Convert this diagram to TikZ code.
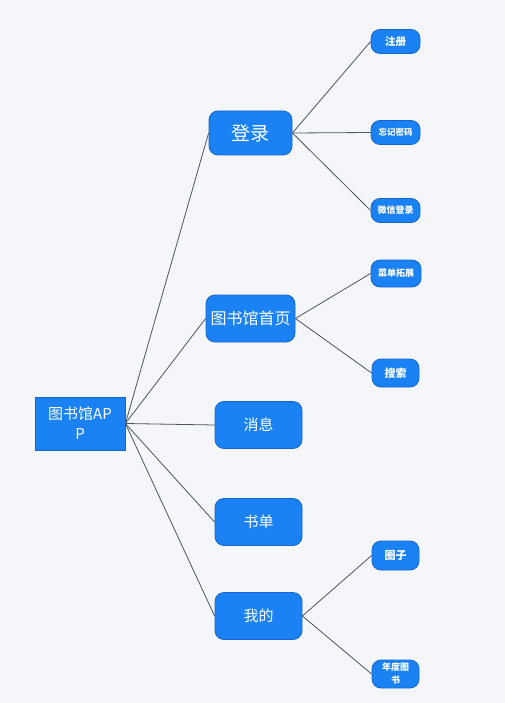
\documentclass[tikz,border=0pt]{standalone}
\usepackage{fontspec}
\newfontfamily\cjk{Noto Sans CJK SC}
\definecolor{bg}{HTML}{F4F6FA}
\definecolor{nodefill}{HTML}{1A82F5}
\definecolor{nodeline}{HTML}{1466CC}
\definecolor{edge}{HTML}{4B5560}
\begin{document}
\begin{tikzpicture}[x=1pt,y=-1pt,
  base/.style={draw=nodeline,fill=nodefill,text=white,line width=0.8pt,inner sep=0pt,align=center,font=\cjk},
  rootbox/.style={base,minimum width=90pt,minimum height=53pt,font=\cjk\fontsize{15}{20}\selectfont},
  lone/.style={base,rounded corners=9pt,minimum width=87pt,minimum height=47pt,font=\cjk\fontsize{15}{18}\selectfont},
  ltwo/.style={base,rounded corners=9pt,minimum width=49pt,minimum height=24pt,font=\cjk\bfseries\fontsize{9}{11}\selectfont},
  conn/.style={draw=edge,line width=0.8pt}]
\fill[bg] (0,0) rectangle (505,703);
\useasboundingbox (0,0) rectangle (505,703);
\node[rootbox] (root) at (80,423.5) {图书馆AP\\P};
\node[lone,minimum width=83pt,minimum height=44pt,font=\cjk\fontsize{19}{22}\selectfont] (login) at (250.5,133) {登录};
\node[lone,minimum width=89pt,font=\cjk\fontsize{16}{18}\selectfont] (home) at (250.5,318.5) {图书馆首页};
\node[lone] (msg) at (258.5,425) {消息};
\node[lone] (list) at (258.5,522) {书单};
\node[lone] (mine) at (258.5,616) {我的};
\node[ltwo,font=\cjk\bfseries\fontsize{10.5}{12}\selectfont] (reg) at (395.5,41.5) {注册};
\node[ltwo,font=\cjk\bfseries\fontsize{8.5}{10}\selectfont] (forgot) at (395.5,132.5) {忘记密码};
\node[ltwo,font=\cjk\bfseries\fontsize{9}{10}\selectfont] (wx) at (395.5,210.5) {微信登录};
\node[ltwo,minimum width=50pt,minimum height=27pt,font=\cjk\bfseries\fontsize{9}{10}\selectfont] (menu) at (396,273.5) {菜单拓展};
\node[ltwo,minimum width=47pt,minimum height=28pt,font=\cjk\bfseries\fontsize{11}{12}\selectfont] (search) at (395.5,373) {搜索};
\node[ltwo,minimum width=47pt,minimum height=29pt,font=\cjk\bfseries\fontsize{11}{12}\selectfont] (circle) at (395.5,555.5) {圈子};
\node[ltwo,minimum width=47pt,minimum height=28pt,font=\cjk\bfseries\fontsize{9}{13}\selectfont] (annual) at (395.5,674) {年度图\\书};
\foreach \t in {login,home,msg,list,mine}
  \draw[conn] (root.east) -- (\t.west);
\foreach \t in {reg,forgot,wx}
  \draw[conn] (login.east) -- (\t.west);
\foreach \t in {menu,search}
  \draw[conn] (home.east) -- (\t.west);
\foreach \t in {circle,annual}
  \draw[conn] (mine.east) -- (\t.west);
\end{tikzpicture}
\end{document}
